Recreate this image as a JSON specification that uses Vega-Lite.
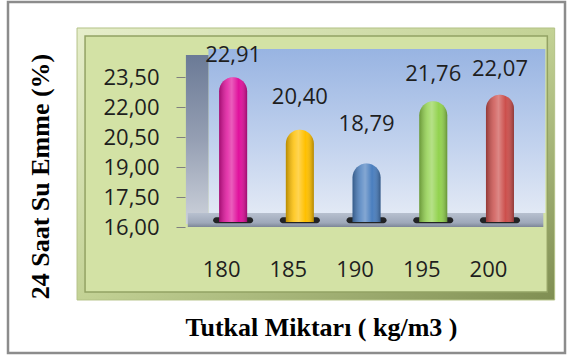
{
  "$schema": "https://vega.github.io/schema/vega-lite/v6.json",
  "width": 557,
  "height": 351,
  "autosize": {"type": "none"},
  "padding": {"left": 8, "top": 2, "right": 4, "bottom": 5},
  "background": "white",
  "config": {
    "locale": {
      "number": {"decimal": ",", "thousands": ".", "grouping": [3], "currency": ["", " €"]}
    },
    "view": {"stroke": "#8c8c8c", "strokeWidth": 2.5, "fill": "white"},
    "font": "Open Sans"
  },
  "data": {
    "values": [
      {"Tutkal": 180, "Emme": 22.91},
      {"Tutkal": 185, "Emme": 20.40},
      {"Tutkal": 190, "Emme": 18.79},
      {"Tutkal": 195, "Emme": 21.76},
      {"Tutkal": 200, "Emme": 22.07}
    ]
  },
  "resolve": {"scale": {"y": "independent"}},
  "layer": [
    {
      "layer": [
        {
          "data": {"values": [{}]},
          "mark": {
            "type": "rect",
            "fill": {"gradient": "linear", "x1": 0, "y1": 0, "x2": 1, "y2": 1,
              "stops": [{"offset": 0, "color": "#e6eecb"}, {"offset": 0.5, "color": "#c3d295"}, {"offset": 1, "color": "#7f8e52"}]},
            "stroke": "#b4c287",
            "strokeWidth": 1
          },
          "encoding": {
            "x": {
              "datum": 168.3,
              "type": "quantitative",
              "scale": {"domain": [163.5, 204.5], "nice": false, "zero": false},
              "axis": {
                "orient": "bottom",
                "values": [180, 185, 190, 195, 200],
                "format": "d",
                "offset": -94,
                "ticks": false,
                "domain": false,
                "grid": false,
                "labelOffset": -12,
                "labelPadding": 0,
                "labelFont": "Open Sans",
                "labelFontSize": 22,
                "labelColor": "#1e1e1e",
                "title": "Tutkal Miktarı ( kg/m3 )",
                "titleFont": "Liberation Serif",
                "titleFontWeight": "bold",
                "titleFontSize": 26,
                "titleColor": "#000000",
                "titlePadding": 34,
                "titleX": 313,
                "titleAlign": "center",
                "zindex": 2
              }
            },
            "x2": {"datum": 204.1},
            "y": {"datum": 25.26, "type": "quantitative", "scale": {"domain": [9.75, 26.5], "nice": false, "zero": false}, "axis": null},
            "y2": {"datum": 12.28}
          }
        },
        {
          "data": {"values": [{}]},
          "mark": {"type": "rect", "fill": "#d3e2a5", "stroke": "#93a264", "strokeWidth": 1.5},
          "encoding": {
            "x": {"datum": 168.9, "type": "quantitative"},
            "x2": {"datum": 203.55},
            "y": {"datum": 24.88, "type": "quantitative"},
            "y2": {"datum": 12.66}
          }
        },
        {
          "data": {"values": [{}]},
          "mark": {
            "type": "rect",
            "fill": {"gradient": "linear", "x1": 0, "y1": 0, "x2": 0, "y2": 1,
              "stops": [{"offset": 0, "color": "#98b4e2"}, {"offset": 0.6, "color": "#c3d3ee"}, {"offset": 1, "color": "#e2e9f5"}]}
          },
          "encoding": {
            "x": {"datum": 178.15, "type": "quantitative"},
            "x2": {"datum": 203.4},
            "y": {"datum": 24.26, "type": "quantitative"},
            "y2": {"datum": 16.43}
          }
        },
        {
          "data": {"values": [{}]},
          "mark": {
            "type": "rect",
            "fill": {"gradient": "linear", "x1": 0, "y1": 0, "x2": 0, "y2": 1,
              "stops": [{"offset": 0, "color": "#6b7a96"}, {"offset": 0.5, "color": "#959fb3"}, {"offset": 1, "color": "#cdd2db"}]}
          },
          "encoding": {
            "x": {"datum": 176.46, "type": "quantitative"},
            "x2": {"datum": 178.15},
            "y": {"datum": 23.97, "type": "quantitative"},
            "y2": {"datum": 15.91}
          }
        },
        {
          "data": {"values": [{}]},
          "mark": {
            "type": "rect",
            "fill": {"gradient": "linear", "x1": 0, "y1": 0, "x2": 0, "y2": 1,
              "stops": [{"offset": 0, "color": "#b7c0cf"}, {"offset": 0.7, "color": "#9ea8b9"}, {"offset": 1, "color": "#7c8596"}]}
          },
          "encoding": {
            "x": {"datum": 176.6, "type": "quantitative"},
            "x2": {"datum": 203.25},
            "y": {"datum": 16.43, "type": "quantitative"},
            "y2": {"datum": 15.76}
          }
        },
        {
          "mark": {"type": "tick", "orient": "horizontal", "size": 40, "thickness": 6, "cornerRadius": 3, "color": "#141414", "opacity": 0.9},
          "encoding": {
            "x": {"field": "Tutkal", "type": "quantitative"},
            "y": {"datum": 16.08, "type": "quantitative"}
          }
        },
        {
          "mark": {"type": "bar", "width": 28, "cornerRadiusTopLeft": 14, "cornerRadiusTopRight": 14},
          "encoding": {
            "x": {"field": "Tutkal", "type": "quantitative"},
            "y": {"field": "Emme", "type": "quantitative"},
            "y2": {"datum": 16},
            "color": {
              "field": "Tutkal",
              "type": "nominal",
              "scale": {"range": ["#e0109c", "#ffc000", "#4a7ebe", "#92d24e", "#cc4f4c"]},
              "legend": null
            }
          }
        },
        {
          "mark": {
            "type": "bar",
            "width": 28,
            "cornerRadiusTopLeft": 14,
            "cornerRadiusTopRight": 14,
            "fill": {"gradient": "linear", "x1": 0, "y1": 0, "x2": 1, "y2": 0,
              "stops": [
                {"offset": 0, "color": "rgba(0,0,0,0.28)"},
                {"offset": 0.3, "color": "rgba(255,255,255,0.18)"},
                {"offset": 0.45, "color": "rgba(255,255,255,0.32)"},
                {"offset": 0.7, "color": "rgba(255,255,255,0.0)"},
                {"offset": 1, "color": "rgba(0,0,0,0.3)"}
              ]}
          },
          "encoding": {
            "x": {"field": "Tutkal", "type": "quantitative"},
            "y": {"field": "Emme", "type": "quantitative"},
            "y2": {"datum": 16}
          }
        }
      ]
    },
    {
      "mark": {"type": "point", "opacity": 0},
      "encoding": {
        "x": {"field": "Tutkal", "type": "quantitative"},
        "y": {
          "field": "Emme",
          "type": "quantitative",
          "scale": {"domain": [9.7, 27.25], "nice": false, "zero": false},
          "axis": {
            "orient": "left",
            "values": [16, 17.5, 19, 20.5, 22, 23.5],
            "format": ".2f",
            "offset": -177,
            "domain": false,
            "grid": false,
            "tickSize": 9,
            "tickColor": "#7f7f7f",
            "labelPadding": 17,
            "labelFont": "Open Sans",
            "labelFontSize": 22,
            "labelColor": "#1e1e1e",
            "title": "24 Saat Su Emme (%)",
            "titleFont": "Liberation Serif",
            "titleFontWeight": "bold",
            "titleFontSize": 26,
            "titleColor": "#000000",
            "titleX": -145,
            "titleY": 174,
            "titleAngle": -90,
            "titleAlign": "center",
            "titleBaseline": "middle",
            "zindex": 2
          }
        }
      }
    },
    {
      "mark": {"type": "text", "font": "Open Sans", "fontSize": 22, "color": "#1e1e1e", "baseline": "middle", "align": "center"},
      "encoding": {
        "x": {"field": "Tutkal", "type": "quantitative"},
        "y": {"field": "Emme", "type": "quantitative", "scale": {"domain": [5.22, 26.05], "nice": false, "zero": false}, "axis": null},
        "text": {"field": "Emme", "type": "quantitative", "format": ".2f"}
      }
    }
  ]
}
